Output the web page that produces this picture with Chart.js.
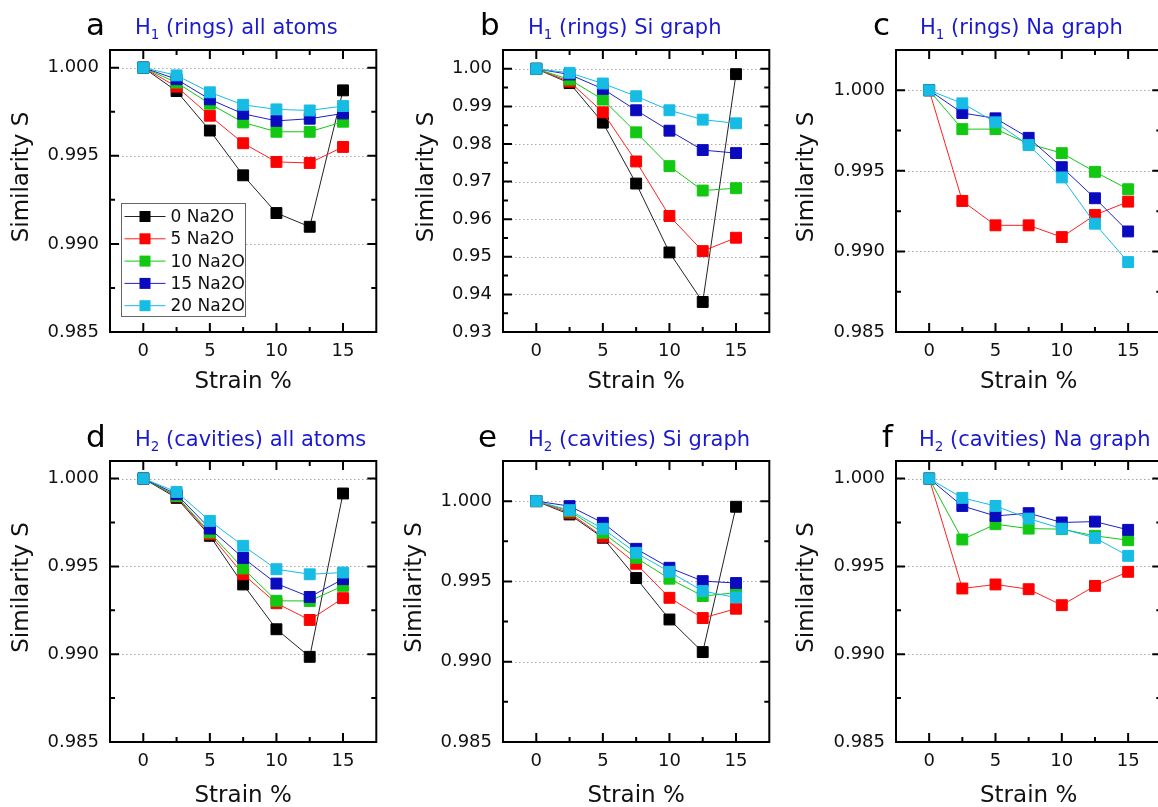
<!DOCTYPE html>
<html>
<head>
<meta charset="utf-8">
<script src="https://cdn.jsdelivr.net/npm/chart.js@4.4.1/dist/chart.umd.min.js"></script>
<style>
  html, body { margin: 0; padding: 0; background: #fff; overflow: hidden; }
  #wrap { position: relative; width: 1158px; height: 807px; overflow: hidden; }
  canvas { position: absolute; }
</style>
</head>
<body>
<div id="wrap">
  <canvas id="pa"></canvas>
  <canvas id="pb"></canvas>
  <canvas id="pc"></canvas>
  <canvas id="pd"></canvas>
  <canvas id="pe"></canvas>
  <canvas id="pf"></canvas>
</div>
<script>
// strain values (x) and series names
var strain = [0, 2.5, 5, 7.5, 10, 12.5, 15];
var seriesNames = ["0 Na2O", "5 Na2O", "10 Na2O", "15 Na2O", "20 Na2O"];
var seriesColors = ["#000000", "#ff0000", "#12c812", "#0a0abf", "#16bce4"];
var lineColors = ["#222222", "#ff2020", "#12c812", "#2020c8", "#16bce4"];

var xTicks = [0, 5, 10, 15];
var xMinor = [2.5, 7.5, 12.5];
var yTicksFine = [0.985, 0.990, 0.995, 1.000];
var yMinorFine = [0.9875, 0.9925, 0.9975];
var yTicksWide = [0.93, 0.94, 0.95, 0.96, 0.97, 0.98, 0.99, 1.00];
var yMinorWide = [0.935, 0.945, 0.955, 0.965, 0.975, 0.985, 0.995];

// rows: 0, 5, 10, 15, 20 Na2O
var h1All = [
  [1.0, 0.99867, 0.99643, 0.99389, 0.99175, 0.99097, 0.99871],
  [1.0, 0.99892, 0.99727, 0.99571, 0.99465, 0.99459, 0.99550],
  [1.0, 0.99915, 0.99795, 0.99689, 0.99636, 0.99636, 0.99693],
  [1.0, 0.99934, 0.99820, 0.99738, 0.99698, 0.99710, 0.99740],
  [1.0, 0.99956, 0.99860, 0.99789, 0.99763, 0.99757, 0.99782]
];
var h1Si = [
  [1.0, 0.99620, 0.98568, 0.96948, 0.95116, 0.93799, 0.99858],
  [1.0, 0.99660, 0.98843, 0.97536, 0.96085, 0.95151, 0.95507],
  [1.0, 0.99715, 0.99181, 0.98310, 0.97411, 0.96762, 0.96824],
  [1.0, 0.99849, 0.99466, 0.98897, 0.98354, 0.97838, 0.97758],
  [1.0, 0.99893, 0.99609, 0.99270, 0.98897, 0.98648, 0.98550]
];
var h1Na = [
  null,
  [1.0, 0.99313, 0.99162, 0.99162, 0.99089, 0.99226, 0.99309],
  [1.0, 0.99759, 0.99759, 0.99668, 0.99610, 0.99494, 0.99386],
  [1.0, 0.99859, 0.99826, 0.99705, 0.99523, 0.99330, 0.99124],
  [1.0, 0.99919, 0.99801, 0.99660, 0.99459, 0.99172, 0.98934]
];
var h2All = [
  [1.0, 0.99890, 0.99674, 0.99397, 0.99142, 0.98985, 0.99915],
  [1.0, 0.99898, 0.99683, 0.99455, 0.99290, 0.99195, 0.99319],
  [1.0, 0.99901, 0.99693, 0.99488, 0.99304, 0.99303, 0.99389],
  [1.0, 0.99911, 0.99715, 0.99548, 0.99402, 0.99326, 0.99427],
  [1.0, 0.99924, 0.99759, 0.99617, 0.99484, 0.99455, 0.99465]
];
var h2Si = [
  [1.0, 0.99917, 0.99772, 0.99521, 0.99263, 0.99060, 0.99965],
  [1.0, 0.99927, 0.99778, 0.99610, 0.99398, 0.99272, 0.99330],
  [1.0, 0.99938, 0.99803, 0.99647, 0.99517, 0.99409, 0.99430],
  [1.0, 0.99969, 0.99865, 0.99703, 0.99585, 0.99502, 0.99490],
  [1.0, 0.99944, 0.99828, 0.99678, 0.99560, 0.99440, 0.99400]
];
var h2Na = [
  null,
  [1.0, 0.99374, 0.99397, 0.99370, 0.99279, 0.99389, 0.99469],
  [1.0, 0.99653, 0.99740, 0.99715, 0.99712, 0.99674, 0.99649],
  [1.0, 0.99844, 0.99787, 0.99803, 0.99750, 0.99755, 0.99708],
  [1.0, 0.99890, 0.99844, 0.99772, 0.99715, 0.99662, 0.99560]
];

var FONT = "'DejaVu Sans', Arial, sans-serif";
var TITLE_BLUE = "#1a1acc";
var X_AXIS_HEIGHT = 68;

var panels = [
  { id: "pa", rows: h1All, left: 0, top: 0, width: 385, height: 400, padTop: 50, yWidth: 110,
    yMin: 0.985, yMax: 1.001, yMajor: yTicksFine, yMinor: yMinorFine, digits: 3,
    letter: "a", head: "H", sub: "1", rest: " (rings) all atoms", letterX: 86, titleX: 135, base: 34, legend: true },
  { id: "pb", rows: h1Si, left: 405, top: 0, width: 373, height: 400, padTop: 50, yWidth: 98,
    yMin: 0.93, yMax: 1.005, yMajor: yTicksWide, yMinor: yMinorWide, digits: 2,
    letter: "b", head: "H", sub: "1", rest: " (rings) Si graph", letterX: 480, titleX: 528, base: 34 },
  { id: "pc", rows: h1Na, left: 785, top: 0, width: 385, height: 400, padTop: 50, yWidth: 111,
    yMin: 0.985, yMax: 1.0025, yMajor: yTicksFine, yMinor: yMinorFine, digits: 3,
    letter: "c", head: "H", sub: "1", rest: " (rings) Na graph", letterX: 873, titleX: 920, base: 34 },
  { id: "pd", rows: h2All, left: 0, top: 400, width: 385, height: 410, padTop: 61, yWidth: 110,
    yMin: 0.985, yMax: 1.001, yMajor: yTicksFine, yMinor: yMinorFine, digits: 3,
    letter: "d", head: "H", sub: "2", rest: " (cavities) all atoms", letterX: 86, titleX: 135, base: 446 },
  { id: "pe", rows: h2Si, left: 393, top: 400, width: 385, height: 410, padTop: 61, yWidth: 110,
    yMin: 0.985, yMax: 1.0025, yMajor: yTicksFine, yMinor: yMinorFine, digits: 3,
    letter: "e", head: "H", sub: "2", rest: " (cavities) Si graph", letterX: 478, titleX: 528, base: 446 },
  { id: "pf", rows: h2Na, left: 785, top: 400, width: 385, height: 410, padTop: 61, yWidth: 111,
    yMin: 0.985, yMax: 1.001, yMajor: yTicksFine, yMinor: yMinorFine, digits: 3,
    letter: "f", head: "H", sub: "2", rest: " (cavities) Na graph", letterX: 882, titleX: 919, base: 446 }
];

function makeFramePlugin(p) {
  return {
    id: "frame_" + p.id,
    beforeDatasetsDraw: function (chart) {
      var ctx = chart.ctx, a = chart.chartArea, ys = chart.scales.y;
      ctx.save();
      ctx.strokeStyle = "#a8a8a8";
      ctx.lineWidth = 1;
      ctx.setLineDash([1.5, 2.5]);
      p.yMajor.forEach(function (v) {
        if (v <= p.yMin) return;
        var y = Math.round(ys.getPixelForValue(v)) + 0.5;
        ctx.beginPath();
        ctx.moveTo(a.left, y);
        ctx.lineTo(a.right, y);
        ctx.stroke();
      });
      ctx.restore();
    },
    afterDraw: function (chart) {
      var ctx = chart.ctx, a = chart.chartArea, xs = chart.scales.x, ys = chart.scales.y;
      ctx.save();
      ctx.strokeStyle = "#000";
      ctx.lineWidth = 2;
      // ticks, pointing inward on all four sides
      function xTick(v, len) {
        var x = xs.getPixelForValue(v);
        ctx.beginPath();
        ctx.moveTo(x, a.bottom); ctx.lineTo(x, a.bottom - len);
        ctx.moveTo(x, a.top); ctx.lineTo(x, a.top + len);
        ctx.stroke();
      }
      function yTick(v, len) {
        var y = ys.getPixelForValue(v);
        ctx.beginPath();
        ctx.moveTo(a.left, y); ctx.lineTo(a.left + len, y);
        ctx.moveTo(a.right, y); ctx.lineTo(a.right - len, y);
        ctx.stroke();
      }
      xTicks.forEach(function (v) { xTick(v, 9); });
      xMinor.forEach(function (v) { xTick(v, 5); });
      p.yMajor.forEach(function (v) { yTick(v, 9); });
      p.yMinor.forEach(function (v) { yTick(v, 5); });
      ctx.strokeRect(a.left, a.top, a.right - a.left, a.bottom - a.top);

      // y axis title
      ctx.fillStyle = "#111";
      ctx.font = "23px " + FONT;
      ctx.textAlign = "center";
      ctx.textBaseline = "middle";
      ctx.save();
      ctx.translate(ys.left + 22.5, (a.top + a.bottom) / 2 - 14);
      ctx.rotate(-Math.PI / 2);
      ctx.fillText("Similarity S", 0, 0);
      ctx.restore();

      // panel letter and blue heading
      ctx.textAlign = "left";
      ctx.textBaseline = "alphabetic";
      ctx.fillStyle = "#000";
      ctx.font = "31px " + FONT;
      ctx.fillText(p.letter, p.letterX - p.left, p.base + 1 - p.top);
      ctx.fillStyle = TITLE_BLUE;
      var tx = p.titleX - p.left, ty = p.base - p.top;
      ctx.font = "21px " + FONT;
      ctx.fillText(p.head, tx, ty);
      tx += ctx.measureText(p.head).width;
      ctx.font = "13.5px " + FONT;
      ctx.fillText(p.sub, tx, ty + 5);
      tx += ctx.measureText(p.sub).width;
      ctx.font = "21px " + FONT;
      ctx.fillText(p.rest, tx, ty);

      // legend box (panel a only)
      if (p.legend) {
        var lx = a.left + 11.5, ly = a.top + 153.5, lw = 124, lh = 113;
        ctx.fillStyle = "#fff";
        ctx.fillRect(lx, ly, lw, lh);
        ctx.strokeStyle = "#666";
        ctx.lineWidth = 1;
        ctx.strokeRect(lx, ly, lw, lh);
        ctx.font = "17px " + FONT;
        ctx.textBaseline = "middle";
        seriesNames.forEach(function (name, i) {
          var ry = ly + 13 + i * 22.3;
          ctx.strokeStyle = lineColors[i];
          ctx.beginPath();
          ctx.moveTo(lx + 3, ry); ctx.lineTo(lx + 44, ry);
          ctx.stroke();
          ctx.fillStyle = seriesColors[i];
          ctx.fillRect(lx + 18, ry - 5.5, 11, 11);
          ctx.fillStyle = "#111";
          ctx.fillText(name, lx + 49, ry + 1);
        });
      }
      ctx.restore();
    }
  };
}

panels.forEach(function (p) {
  var canvas = document.getElementById(p.id);
  canvas.width = p.width;
  canvas.height = p.height;
  canvas.style.left = p.left + "px";
  canvas.style.top = p.top + "px";

  var datasets = [];
  p.rows.forEach(function (vals, i) {
    if (!vals) return;
    datasets.push({
      label: seriesNames[i],
      data: strain.map(function (x, k) { return { x: x, y: vals[k] }; }),
      borderColor: lineColors[i],
      borderWidth: 1,
      backgroundColor: seriesColors[i],
      pointStyle: "rect",
      pointRadius: 7.7,
      pointBorderWidth: 1,
      pointBackgroundColor: seriesColors[i],
      pointBorderColor: seriesColors[i],
      tension: 0,
      order: 4 - i
    });
  });

  new Chart(canvas.getContext("2d"), {
    type: "line",
    data: { datasets: datasets },
    options: {
      responsive: false,
      animation: false,
      clip: false,
      layout: { padding: { top: p.padTop, right: 6, bottom: 0, left: 0 } },
      plugins: { legend: { display: false }, tooltip: { enabled: false } },
      scales: {
        x: {
          type: "linear",
          min: -2.5,
          max: 17.5,
          afterBuildTicks: function (scale) {
            scale.ticks = xTicks.map(function (v) { return { value: v }; });
          },
          afterFit: function (scale) { scale.height = X_AXIS_HEIGHT; },
          ticks: {
            autoSkip: false,
            maxRotation: 0,
            padding: 9,
            color: "#111",
            font: { family: FONT, size: 18 },
            callback: function (v) { return String(v); }
          },
          grid: { display: false, drawTicks: false },
          border: { display: false },
          title: {
            display: true,
            text: "Strain %",
            color: "#111",
            font: { family: FONT, size: 23 },
            padding: { top: 0, bottom: p.top ? 0 : 4 }
          }
        },
        y: {
          type: "linear",
          min: p.yMin,
          max: p.yMax,
          afterBuildTicks: function (scale) {
            scale.ticks = p.yMajor.map(function (v) { return { value: v }; });
          },
          afterFit: function (scale) { scale.width = p.yWidth; },
          ticks: {
            padding: 11,
            color: "#111",
            font: { family: FONT, size: 18 },
            callback: function (v) { return Number(v).toFixed(p.digits); }
          },
          grid: { display: false, drawTicks: false },
          border: { display: false }
        }
      }
    },
    plugins: [makeFramePlugin(p)]
  });
});
</script>
</body>
</html>
